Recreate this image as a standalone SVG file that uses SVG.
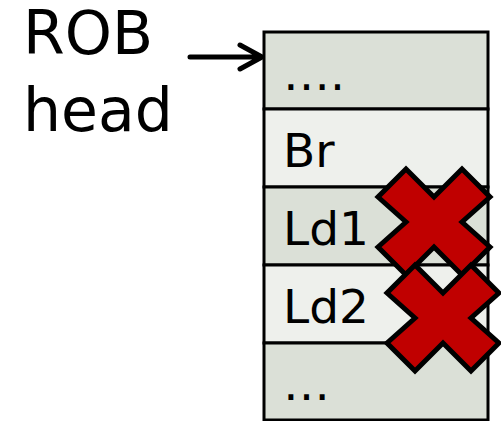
<svg xmlns="http://www.w3.org/2000/svg" width="501" height="421" viewBox="0 0 501 421">
<style>
.t{font-family:"DejaVu Sans",Verdana,sans-serif;fill:#000}
.big{font-size:60px}
.row{font-size:47px}
.dk{fill:#DBE0D7;stroke:#000;stroke-width:3}
.lt{fill:#EEF0EC;stroke:#000;stroke-width:3}
.x{fill:#C00000;stroke:#000;stroke-width:5;stroke-linejoin:miter}
</style>
<defs>
<polygon id="cross" points="-28,-53 0,-25 28,-53 56,-25 28,0 56,25 28,53 0,25 -28,53 -56,25 -28,0 -56,-25"/>
</defs>
<g id="label"><text class="t big" x="23" y="54">ROB</text><text class="t big" x="23" y="131">head</text></g>
<g id="connectors"><path d="M190,57 H260 M240,45 L262,57 L240,69" fill="none" stroke="#000" stroke-width="5" stroke-linecap="round" stroke-linejoin="round"/></g>
<g id="row0"><rect class="dk" x="264" y="32" width="224" height="77"/><text class="t row" x="283" y="90">….</text></g>
<g id="row1"><rect class="lt" x="264" y="109" width="224" height="78"/><text class="t row" x="283" y="167">Br</text></g>
<g id="row2"><rect class="dk" x="264" y="187" width="224" height="78"/><text class="t row" x="283" y="245">Ld1</text></g>
<g id="row3"><rect class="lt" x="264" y="265" width="224" height="78"/><text class="t row" x="283" y="323">Ld2</text></g>
<g id="row4"><rect class="dk" x="264" y="343" width="224" height="77"/><text class="t row" x="283" y="400">…</text></g>
<g id="x1"><use href="#cross" class="x" transform="translate(434,222)"/></g>
<g id="x2"><use href="#cross" class="x" transform="translate(443,318)"/></g>
</svg>
